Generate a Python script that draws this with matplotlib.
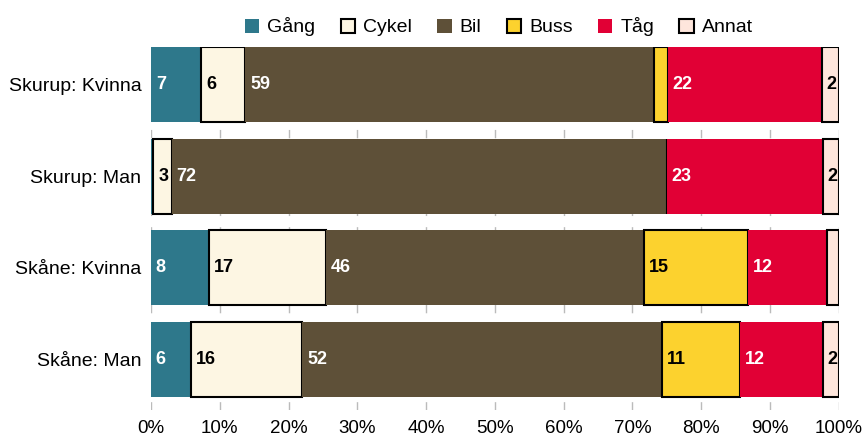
import matplotlib.pyplot as plt
import numpy as np

plt.rcParams['font.family'] = ['Liberation Sans', 'DejaVu Sans']

# categories (top to bottom)
groups = ['Skurup: Kvinna', 'Skurup: Man', 'Skåne: Kvinna', 'Skåne: Man']
modes = ['Gång', 'Cykel', 'Bil', 'Buss', 'Tåg', 'Annat']

# shares in percent, per mode, in the order of groups
gang = [7.3, 0.35, 8.4, 5.8]
cykel = [6.4, 2.65, 17.0, 16.2]
bil = [59.4, 72.0, 46.3, 52.3]
buss = [2.0, 0.0, 15.1, 11.4]
tag = [22.4, 22.7, 11.5, 12.0]
annat = [2.5, 2.3, 1.7, 2.3]

colors = ['#2e788b', '#fdf6e3', '#5e5038', '#fcd22e', '#e10035', '#fee6dc']
edged = [False, True, False, True, False, True]
text_colors = ['white', 'black', 'white', 'black', 'white', 'black']

series = [gang, cykel, bil, buss, tag, annat]

fig = plt.figure(figsize=(8.63, 4.37), dpi=100)
ax = fig.add_axes([0.175, 0.062, 0.797, 0.830])

y = np.arange(len(groups))
left = np.zeros(len(groups))
for vals, name, col, edge, tcol in zip(series, modes, colors, edged, text_colors):
    vals = np.array(vals)
    ax.barh(y, vals, left=left, height=0.82, color=col,
            edgecolor='black' if edge else 'none',
            linewidth=1.5 if edge else 0, label=name, zorder=3)
    for yi, l, v in zip(y, left, vals):
        if v > 2.1:
            ax.text(l + 0.7, yi, f'{v:.0f}', ha='left', va='center',
                    color=tcol, fontsize=13, fontweight='bold', zorder=4)
    left = left + vals

ax.set_xlim(0, 100)
ax.set_ylim(3.55, -0.41)
ax.set_yticks(y)
ax.set_yticklabels(groups, fontsize=14)
ax.set_xticks(np.arange(0, 101, 10))
ax.set_xticklabels([f'{t}%' for t in range(0, 101, 10)], fontsize=13.5)
ax.tick_params(length=0, pad=7)
ax.grid(axis='x', color='#bbbbbb', linestyle=(0, (6, 8)), linewidth=1, zorder=0)
for s in ax.spines.values():
    s.set_visible(False)

fig.legend(loc='upper center', bbox_to_anchor=(0.578, 1.0), ncol=6,
           frameon=False, fontsize=14, handlelength=0.75, handleheight=0.75,
           handletextpad=0.4, columnspacing=1.3)

fig.savefig('out.png', dpi=100)
